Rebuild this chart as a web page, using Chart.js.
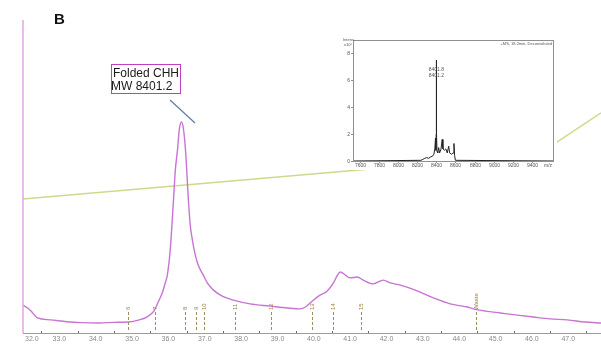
<!DOCTYPE html>
<html>
<head>
<meta charset="utf-8">
<script src="https://cdn.jsdelivr.net/npm/chart.js@4.4.0/dist/chart.umd.min.js"></script>
<style>
  html, body { margin: 0; padding: 0; background: #fff; }
  #wrap { position: relative; width: 601px; height: 345px; overflow: hidden; }
  #trace { position: absolute; left: 0; top: 0; }
  #ms { position: absolute; left: 343px; top: 36px; background: #fff; }
</style>
</head>
<body>
<div id="wrap">
  <canvas id="trace" width="601" height="345"></canvas>
  <canvas id="ms" width="214" height="134"></canvas>
</div>
<script>
// chromatogram (UV trace, minutes)
var retentionTime = [32.0, 32.2, 32.4, 32.75, 33.2, 33.6, 34.1, 34.5, 34.9, 35.2, 35.4, 35.6, 35.72, 35.83, 35.92, 35.97,
  36.05, 36.14, 36.19, 36.25, 36.3, 36.36, 36.41, 36.47, 36.55, 36.6, 36.66, 36.74, 36.82, 36.96, 37.07, 37.24,
  37.48, 37.79, 38.25, 38.8, 39.27, 39.63, 39.77, 39.96, 40.13, 40.37, 40.54, 40.65, 40.73, 40.87, 41.0, 41.2,
  41.36, 41.64, 41.91, 42.1, 42.38, 42.79, 43.29, 43.75, 44.22, 44.39, 44.72, 45.13, 45.54, 46.04, 46.5, 46.97,
  47.47, 47.9];
var absorbance = [8.9, 7.3, 4.8, 4.2, 3.6, 3.3, 3.2, 3.4, 3.5, 4.2, 5.1, 7.0, 9.9, 12.8, 16.3, 18.5,
  26.5, 42.5, 52, 58.5, 65, 67.4, 65.5, 58.5, 42.5, 34.5, 29.7, 24.9, 21.7, 18.5, 16, 13.7,
  11.8, 10.5, 9.3, 8.6, 8.0, 7.7, 8.3, 10.2, 11.8, 13.4, 16, 18.5, 19.5, 18.5, 17.6, 17.9,
  16.9, 15.7, 16.9, 16, 15.3, 13.7, 11.2, 9.3, 8.3, 7.7, 7.0, 6.4, 5.8, 5.1, 4.5, 4.2,
  3.5, 3.2];

// solvent gradient
var gradientTime = [32.0, 46.17, 47.9];
var gradientLevel = [42.8, 57.0, 70.3];

// collected fractions
var fractionTimes = [34.9, 35.64, 36.47, 36.77, 36.99, 37.84, 38.83, 39.96, 40.54, 41.31, 44.47];
var fractionLabels = ['6', '7', '8', '9', '10', '11', '12', '13', '14', '15', 'Waste'];

var timeTicks = [32, 33, 34, 35, 36, 37, 38, 39, 40, 41, 42, 43, 44, 45, 46, 47];

// deconvoluted mass spectrum
var msMass = [7530, 8240, 8260, 8280, 8300, 8320, 8340, 8360, 8375, 8385, 8392, 8396, 8399, 8401, 8403, 8408,
  8415, 8425, 8435, 8450, 8462, 8470, 8485, 8500, 8515, 8530, 8540, 8560, 8575, 8585, 8592, 8600, 9620];
var msIntensity = [0, 0.05, 0.12, 0.2, 0.25, 0.2, 0.3, 0.35, 0.5, 0.9, 1.7, 0.8, 2.0, 7.5, 2.2, 0.7,
  0.6, 1.0, 0.6, 0.9, 1.6, 0.9, 0.8, 0.9, 0.6, 1.1, 0.6, 0.5, 0.6, 1.3, 0.4, 0.05, 0];
var msMassTicks = [7600, 7800, 8000, 8200, 8400, 8600, 8800, 9000, 9200, 9400];
var msIntensityTicks = [0, 2, 4, 6, 8];

function pairs(xs, ys) {
  return xs.map(function (x, i) { return { x: x, y: ys[i] }; });
}

var chromDecor = {
  id: 'chromDecor',
  afterDraw: function (chart) {
    var ctx = chart.ctx;
    var xs = chart.scales.x;
    var area = chart.chartArea;
    ctx.save();

    // baseline axis
    ctx.strokeStyle = '#9d9d9d';
    ctx.lineWidth = 1;
    ctx.beginPath();
    ctx.moveTo(area.left, area.bottom + 0.5);
    ctx.lineTo(area.right, area.bottom + 0.5);
    ctx.stroke();

    // half-minute marks
    ctx.strokeStyle = '#666';
    for (var t = 32.5; t < 48; t += 1) {
      var mx = Math.round(xs.getPixelForValue(t)) + 0.5;
      ctx.beginPath();
      ctx.moveTo(mx, area.bottom - 2);
      ctx.lineTo(mx, area.bottom);
      ctx.stroke();
    }

    // time labels
    ctx.fillStyle = '#8a8a8a';
    ctx.font = '7px "Liberation Sans", Arial, sans-serif';
    ctx.textBaseline = 'middle';
    timeTicks.forEach(function (v, i) {
      var px = xs.getPixelForValue(v);
      ctx.textAlign = i === 0 ? 'left' : 'center';
      ctx.fillText(v.toFixed(1), i === 0 ? area.left + 2 : px, area.bottom + 6);
    });

    // fraction markers
    ctx.strokeStyle = '#a08d5e';
    ctx.fillStyle = '#9a8048';
    ctx.setLineDash([3, 2]);
    ctx.font = '6px "Liberation Sans", Arial, sans-serif';
    fractionTimes.forEach(function (v, i) {
      var px = Math.round(xs.getPixelForValue(v)) + 0.5;
      ctx.beginPath();
      ctx.moveTo(px, area.bottom - 21);
      ctx.lineTo(px, area.bottom - 1);
      ctx.stroke();
      ctx.save();
      ctx.translate(px, area.bottom - 23);
      ctx.rotate(-Math.PI / 2);
      ctx.textAlign = 'left';
      ctx.textBaseline = 'middle';
      ctx.fillText(fractionLabels[i], 0, 0);
      ctx.restore();
    });
    ctx.setLineDash([]);

    // left axis
    ctx.strokeStyle = '#e3a6e3';
    ctx.lineWidth = 1.5;
    ctx.beginPath();
    ctx.moveTo(area.left, area.top);
    ctx.lineTo(area.left, area.bottom);
    ctx.stroke();

    // panel letter
    ctx.fillStyle = '#111';
    ctx.font = 'bold 15px "Liberation Sans", Arial, sans-serif';
    ctx.textAlign = 'left';
    ctx.textBaseline = 'alphabetic';
    ctx.fillText('B', 54, 24);

    // peak callout
    ctx.strokeStyle = '#c23fc4';
    ctx.lineWidth = 1;
    ctx.strokeRect(111.5, 64.5, 69, 29);
    ctx.fillStyle = '#1a1a1a';
    ctx.font = '12px "Liberation Sans", Arial, sans-serif';
    ctx.textAlign = 'center';
    ctx.fillText('Folded CHH', 146, 77);
    ctx.textAlign = 'left';
    ctx.fillText('MW 8401.2', 111, 90);

    ctx.strokeStyle = '#5d7d9c';
    ctx.lineWidth = 1.2;
    ctx.beginPath();
    ctx.moveTo(170, 100);
    ctx.lineTo(195, 123);
    ctx.stroke();

    ctx.restore();
  }
};

new Chart(document.getElementById('trace'), {
  type: 'line',
  data: {
    datasets: [
      {
        data: pairs(gradientTime, gradientLevel),
        borderColor: '#cdda8c',
        borderWidth: 1.5,
        pointRadius: 0,
        order: 2
      },
      {
        data: pairs(retentionTime, absorbance),
        borderColor: '#c774d3',
        borderWidth: 1.4,
        pointRadius: 0,
        cubicInterpolationMode: 'monotone',
        order: 1
      }
    ]
  },
  options: {
    responsive: false,
    animation: false,
    events: [],
    layout: { padding: { left: 23, right: 0, top: 20, bottom: 12 } },
    plugins: { legend: { display: false }, tooltip: { enabled: false } },
    scales: {
      x: { type: 'linear', min: 32, max: 47.9, display: false },
      y: { min: 0, max: 100, display: false }
    }
  },
  plugins: [chromDecor]
});

var msDecor = {
  id: 'msDecor',
  afterDraw: function (chart) {
    var ctx = chart.ctx;
    var xs = chart.scales.x;
    var ys = chart.scales.y;
    var a = chart.chartArea;
    ctx.save();

    ctx.strokeStyle = '#8f8f8f';
    ctx.lineWidth = 1;
    ctx.strokeRect(Math.round(a.left) + 0.5, Math.round(a.top) + 0.5, Math.round(a.right - a.left), Math.round(a.bottom - a.top));

    ctx.fillStyle = '#555';
    ctx.font = '5px "Liberation Sans", Arial, sans-serif';
    ctx.textBaseline = 'middle';
    ctx.textAlign = 'right';
    msIntensityTicks.forEach(function (v) {
      var py = Math.round(ys.getPixelForValue(v)) + 0.5;
      ctx.beginPath();
      ctx.moveTo(a.left - 2, py);
      ctx.lineTo(a.left, py);
      ctx.stroke();
      ctx.fillText(String(v), a.left - 3, py);
    });

    ctx.textAlign = 'center';
    msMassTicks.forEach(function (v) {
      var px = Math.round(xs.getPixelForValue(v)) + 0.5;
      ctx.beginPath();
      ctx.moveTo(px, a.bottom);
      ctx.lineTo(px, a.bottom + 2);
      ctx.stroke();
      ctx.fillText(String(v), px, a.bottom + 5);
    });
    ctx.fillText('m/z', a.right - 5, a.bottom + 5);

    ctx.font = '4px "Liberation Sans", Arial, sans-serif';
    ctx.textAlign = 'left';
    ctx.fillText('Intens.', 0, 4);
    ctx.fillText('x10\u2075', 1, 9);
    ctx.textAlign = 'right';
    ctx.fillText('+MS, 18.2min, Deconvoluted', a.right - 1, a.top + 4);

    ctx.font = '5px "Liberation Sans", Arial, sans-serif';
    ctx.textAlign = 'center';
    var pk = xs.getPixelForValue(8401.2);
    ctx.fillText('8401.8', pk, ys.getPixelForValue(7.5) + 9);
    ctx.fillText('8401.2', pk, ys.getPixelForValue(7.5) + 15);

    ctx.restore();
  }
};

new Chart(document.getElementById('ms'), {
  type: 'line',
  data: {
    datasets: [{
      data: pairs(msMass, msIntensity),
      borderColor: '#222',
      borderWidth: 1,
      pointRadius: 0
    }]
  },
  options: {
    responsive: false,
    animation: false,
    events: [],
    layout: { padding: { left: 10, right: 4, top: 4, bottom: 9 } },
    plugins: { legend: { display: false }, tooltip: { enabled: false } },
    scales: {
      x: { type: 'linear', min: 7530, max: 9620, display: false },
      y: { min: 0, max: 9, display: false }
    }
  },
  plugins: [msDecor]
});
</script>
</body>
</html>
